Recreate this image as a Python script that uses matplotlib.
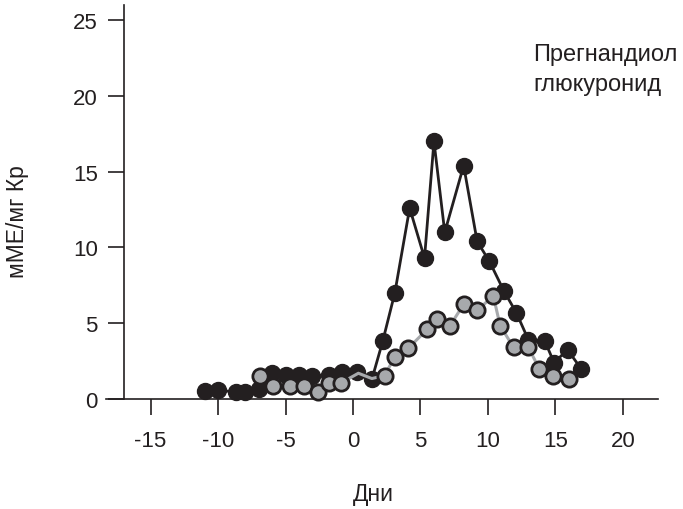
import matplotlib
matplotlib.use("Agg")
import matplotlib.pyplot as plt

plt.rcParams['font.family'] = ['Liberation Sans', 'DejaVu Sans']

# Black series (filled black markers)
black_x = [-11, -10, -8.7, -8, -7, -6, -5, -4, -3, -1.8, -0.8, 0.3, 1.4, 2.2, 3.1, 4.2,
           5.3, 6.0, 6.8, 8.2, 9.2, 10.1, 11.2, 12.1, 13.0, 14.2, 14.9, 15.9, 16.9]
black_y = [0.5, 0.6, 0.45, 0.45, 0.65, 1.7, 1.6, 1.6, 1.5, 1.6, 1.75, 1.75, 1.3, 3.8, 7.0, 12.6,
           9.3, 17.0, 11.0, 15.4, 10.4, 9.1, 7.1, 5.7, 3.9, 3.85, 2.4, 3.25, 2.0]

# Grey series (grey markers)
grey_x = [-6.9, -5.9, -4.7, -3.6, -2.6, -1.8, -0.9, 0.4, 1.4, 2.35, 3.1, 4.1, 5.5, 6.2,
          7.2, 8.2, 9.2, 10.4, 10.9, 11.9, 13.0, 13.8, 14.8, 16.0]
grey_y = [1.55, 0.85, 0.85, 0.85, 0.45, 1.05, 1.05, 1.7, 1.35, 1.55, 2.8, 3.35, 4.6, 5.3,
          4.85, 6.25, 5.85, 6.8, 4.85, 3.4, 3.4, 2.0, 1.55, 1.3]
grey_hidden = [7, 8]  # points hidden under black markers

x_ticks = [-15, -10, -5, 0, 5, 10, 15, 20]
y_ticks = [0, 5, 10, 15, 20, 25]

ink = '#231f20'
fig = plt.figure(figsize=(6.83, 5.10), dpi=100)
ax = fig.add_axes([106/683, 1 - 400/510, 552/683, 394/510])
ax.set_xlim(-18.3, 22.6)
ax.set_ylim(0, 26)

ax.plot(black_x, black_y, color=ink, lw=2.0, marker='o', ms=11.5,
        mfc=ink, mec=ink, zorder=2, clip_on=False)
grey_marks = [i for i in range(len(grey_x)) if i not in grey_hidden]
ax.plot(grey_x, grey_y, color='#a7a9ac', lw=2.2, marker='o', ms=11,
        mfc='#a7a9ac', mec=ink, mew=2.0, markevery=grey_marks, zorder=3, clip_on=False)

for s in ['top', 'right']:
    ax.spines[s].set_visible(False)
ax.spines['left'].set_position(('data', -17.0))
for s in ['left', 'bottom']:
    ax.spines[s].set_linewidth(1.2)
    ax.spines[s].set_color(ink)

ax.set_xticks(x_ticks)
ax.set_yticks(y_ticks)
ax.set_xticklabels([str(v) for v in x_ticks])
ax.set_yticklabels([str(v) for v in y_ticks])
ax.tick_params(axis='both', direction='out', length=11.5, width=1.2, color=ink,
               labelsize=16, labelcolor=ink)
ax.tick_params(axis='x', pad=11)
ax.tick_params(axis='y', pad=7)

fig.text(18/683, 1 - 222/510, 'мМЕ/мг Кр', rotation=90, ha='center', va='center',
         fontsize=16.5, color=ink)
fig.text(373/683, 1 - 495/510, 'Дни', ha='center', va='center', fontsize=16.5, color=ink)
fig.text(533/683, 1 - 61/510, 'Прегнандиол', ha='left', va='baseline',
         fontsize=17, color=ink)
fig.text(533/683, 1 - 91/510, 'глюкуронид', ha='left', va='baseline',
         fontsize=17, color=ink)

fig.savefig('out.png', dpi=100)
